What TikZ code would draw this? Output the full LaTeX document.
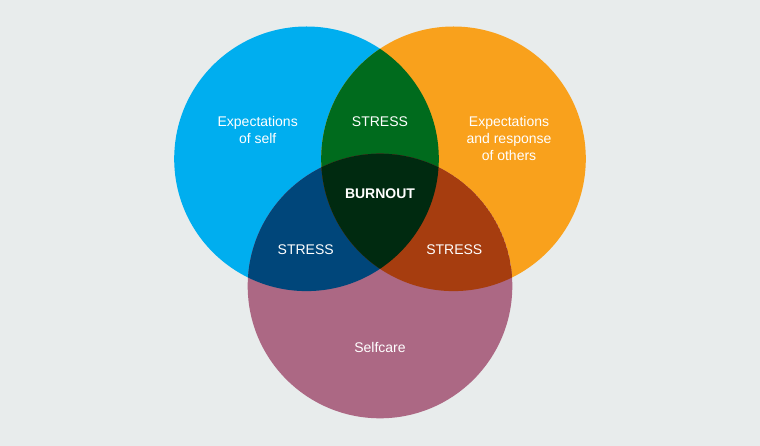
\documentclass[tikz,border=0pt]{standalone}
\usepackage{fontspec}
\setmainfont{Liberation Sans}
\definecolor{bg}{HTML}{E8ECEC}
\definecolor{cblue}{HTML}{00AEEF}
\definecolor{corange}{HTML}{F9A11C}
\definecolor{cpurple}{HTML}{AC6884}
\definecolor{cgreen}{HTML}{006B1D}
\definecolor{cdblue}{HTML}{00467A}
\definecolor{cbrown}{HTML}{A63D0F}
\definecolor{ccenter}{HTML}{002A10}
\tikzset{
  lbl/.style={text=white, font=\fontsize{14}{16.7}\selectfont, align=center, inner sep=0pt},
  blbl/.style={lbl, font=\fontsize{14}{16.7}\selectfont\bfseries}
}
\begin{document}
\begin{tikzpicture}[x=1pt,y=-1pt]
\fill[bg] (0,0) rectangle (760,446);
\useasboundingbox (0,0) rectangle (760,446);
\def\R{132.3}
\coordinate (cb) at (306.5,158.8);
\coordinate (co) at (453.5,158.8);
\coordinate (cp) at (380,286);
\fill[cblue] (cb) circle[radius=\R];
\fill[corange] (co) circle[radius=\R];
\fill[cpurple] (cp) circle[radius=\R];
\begin{scope}
  \clip (cb) circle[radius=\R];
  \fill[cgreen] (co) circle[radius=\R];
  \fill[cdblue] (cp) circle[radius=\R];
  \clip (co) circle[radius=\R];
  \fill[ccenter] (cp) circle[radius=\R];
\end{scope}
\begin{scope}
  \clip (co) circle[radius=\R];
  \clip (cp) circle[radius=\R];
  \fill[cbrown] (cp) circle[radius=\R];
  \clip (cb) circle[radius=\R];
  \fill[ccenter] (cp) circle[radius=\R];
\end{scope}
\node[lbl] (self) at (257.7,129.7) {Expectations\\of self};
\node[lbl] (others) at (509,138.3) {Expectations\\and response\\of others};
\node[lbl] (s1) at (380,121.7) {STRESS};
\node[blbl] (burn) at (380,193.3) {BURNOUT};
\node[lbl] (s2) at (305.7,249.3) {STRESS};
\node[lbl] (s3) at (454.3,249.3) {STRESS};
\node[lbl] (care) at (380,347.7) {Selfcare};
\end{tikzpicture}
\end{document}
